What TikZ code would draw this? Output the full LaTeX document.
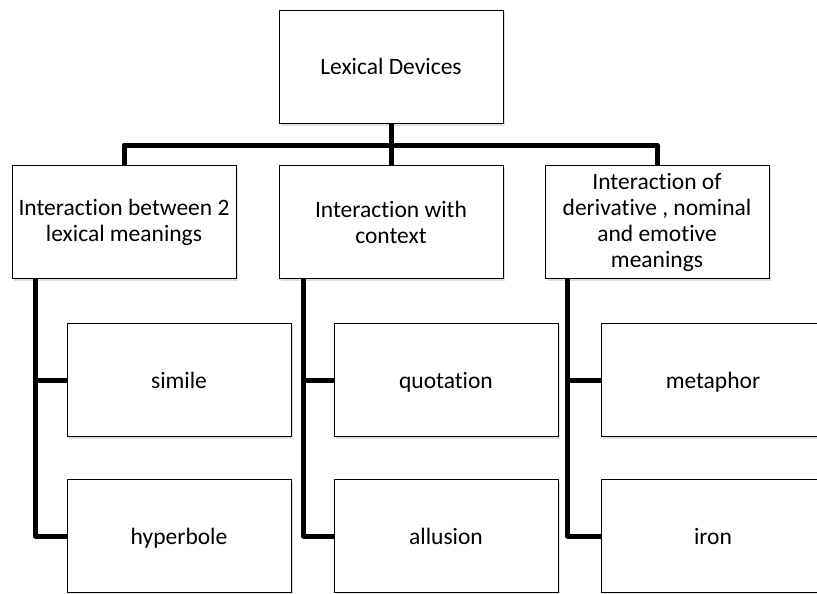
\documentclass[tikz,border=0pt]{standalone}
\usepackage{fontspec}
\setmainfont{Carlito}[Ligatures=NoCommon]
\usepackage{tikz}
\usetikzlibrary{shadows}

\begin{document}
\begin{tikzpicture}[x=1pt, y=-1pt,
    box/.style={draw, line width=1pt, fill=white, minimum width=224pt, minimum height=113pt,
        align=center, inner sep=1pt, font=\fontsize{23.5}{26}\selectfont,
        drop shadow={shadow xshift=1.5pt, shadow yshift=-2pt, opacity=0.25}},
    leaf/.style={box, text height=21pt, text depth=5pt},
    conn/.style={line width=5pt, line join=round}]
    \useasboundingbox (0,0) rectangle (817,594);
    \clip (0,0) rectangle (817,594);

    \node[leaf] (lex) at (391,67) {Lexical Devices};

    \node[box] (twomean) at (124,222) {Interaction between 2\\lexical meanings};
    \node[box] (context) at (391,222) {Interaction with\\context};
    \node[box] (emotive) at (657,222) {Interaction of\\derivative , nominal\\and emotive\\meanings};

    \node[leaf] (simile) at (179,380) {simile};
    \node[leaf] (hyper) at (179,536) {hyperbole};
    \node[leaf] (quot) at (446,380) {quotation};
    \node[leaf] (allu) at (446,536) {allusion};
    \node[leaf] (meta) at (713,380) {metaphor};
    \node[leaf] (iron) at (713,536) {iron};

    \draw[conn] (lex.south) -- (context.north);
    \coordinate (bar) at (391,145);
    \draw[conn] (twomean.north) |- (bar) -| (emotive.north);

    \draw[conn] ([xshift=24pt]twomean.south west) |- (simile.west);
    \draw[conn] ([xshift=24pt]twomean.south west) |- (hyper.west);
    \draw[conn] ([xshift=25pt]context.south west) |- (quot.west);
    \draw[conn] ([xshift=25pt]context.south west) |- (allu.west);
    \draw[conn] ([xshift=23pt]emotive.south west) |- (meta.west);
    \draw[conn] ([xshift=23pt]emotive.south west) |- (iron.west);
\end{tikzpicture}
\end{document}
